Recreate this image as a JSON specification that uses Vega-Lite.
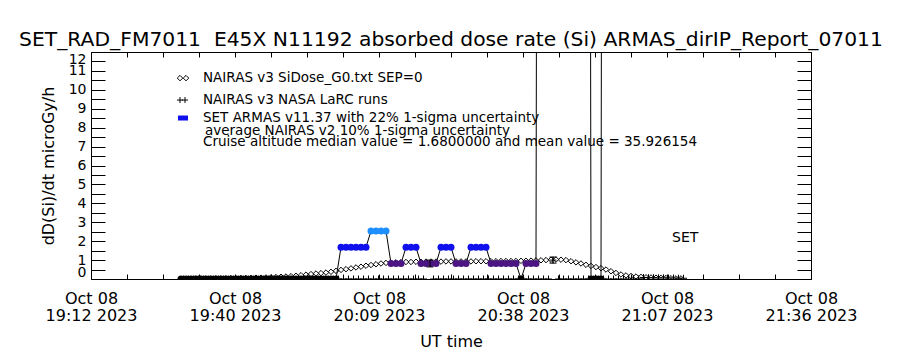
{
  "$schema": "https://vega.github.io/schema/vega-lite/v6.json",
  "width": 720,
  "height": 227,
  "autosize": {"type": "none"},
  "padding": {"left": 91, "top": 52, "right": 89, "bottom": 71},
  "background": "white",
  "title": {"text": "SET_RAD_FM7011 \u00a0E45X N11192 absorbed dose rate (Si) ARMAS_dirIP_Report_07011", "fontSize": 20.3, "font": "DejaVu Sans", "fontWeight": "normal", "color": "black", "anchor": "middle", "offset": 1},
  "config": {
    "view": {"stroke": "black", "strokeWidth": 1},
    "font": "DejaVu Sans",
    "axis": {"domain": false, "grid": false, "tickColor": "black", "labelColor": "black", "titleColor": "black", "labelFont": "DejaVu Sans", "titleFont": "DejaVu Sans", "titleFontWeight": "normal", "labelOverlap": false}
  },
  "datasets": {
    "armas": [
      {"time":"2023-10-08T19:30:00Z","dose":0},{"time":"2023-10-08T19:31:00Z","dose":0},{"time":"2023-10-08T19:32:00Z","dose":0},{"time":"2023-10-08T19:33:00Z","dose":0},{"time":"2023-10-08T19:34:00Z","dose":0},{"time":"2023-10-08T19:35:00Z","dose":0},{"time":"2023-10-08T19:36:00Z","dose":0},{"time":"2023-10-08T19:37:00Z","dose":0},{"time":"2023-10-08T19:38:00Z","dose":0},{"time":"2023-10-08T19:39:00Z","dose":0},
      {"time":"2023-10-08T19:40:00Z","dose":0},{"time":"2023-10-08T19:41:00Z","dose":0},{"time":"2023-10-08T19:42:00Z","dose":0},{"time":"2023-10-08T19:43:00Z","dose":0},{"time":"2023-10-08T19:44:00Z","dose":0},{"time":"2023-10-08T19:45:00Z","dose":0},{"time":"2023-10-08T19:46:00Z","dose":0},{"time":"2023-10-08T19:47:00Z","dose":0},{"time":"2023-10-08T19:48:00Z","dose":0},{"time":"2023-10-08T19:49:00Z","dose":0},
      {"time":"2023-10-08T19:50:00Z","dose":0},{"time":"2023-10-08T19:51:00Z","dose":0},{"time":"2023-10-08T19:52:00Z","dose":0},{"time":"2023-10-08T19:53:00Z","dose":0},{"time":"2023-10-08T19:54:00Z","dose":0},{"time":"2023-10-08T19:55:00Z","dose":0},{"time":"2023-10-08T19:56:00Z","dose":0},{"time":"2023-10-08T19:57:00Z","dose":0},{"time":"2023-10-08T19:58:00Z","dose":0},{"time":"2023-10-08T19:59:00Z","dose":0},
      {"time":"2023-10-08T20:00:00Z","dose":0},{"time":"2023-10-08T20:01:00Z","dose":0},
      {"time":"2023-10-08T20:02:00Z","dose":1.68},{"time":"2023-10-08T20:03:00Z","dose":1.68},{"time":"2023-10-08T20:04:00Z","dose":1.68},{"time":"2023-10-08T20:05:00Z","dose":1.68},{"time":"2023-10-08T20:06:00Z","dose":1.68},{"time":"2023-10-08T20:07:00Z","dose":1.68},
      {"time":"2023-10-08T20:08:00Z","dose":2.54},{"time":"2023-10-08T20:09:00Z","dose":2.54},{"time":"2023-10-08T20:10:00Z","dose":2.54},{"time":"2023-10-08T20:11:00Z","dose":2.54},
      {"time":"2023-10-08T20:12:00Z","dose":0.82},{"time":"2023-10-08T20:13:00Z","dose":0.82},{"time":"2023-10-08T20:14:00Z","dose":0.82},
      {"time":"2023-10-08T20:15:00Z","dose":1.68},{"time":"2023-10-08T20:16:00Z","dose":1.68},{"time":"2023-10-08T20:17:00Z","dose":1.68},
      {"time":"2023-10-08T20:18:00Z","dose":0.82},{"time":"2023-10-08T20:19:00Z","dose":0.82},{"time":"2023-10-08T20:20:00Z","dose":0.82},{"time":"2023-10-08T20:21:00Z","dose":0.82},
      {"time":"2023-10-08T20:22:00Z","dose":1.68},{"time":"2023-10-08T20:23:00Z","dose":1.68},{"time":"2023-10-08T20:24:00Z","dose":1.68},
      {"time":"2023-10-08T20:25:00Z","dose":0.82},{"time":"2023-10-08T20:26:00Z","dose":0.82},{"time":"2023-10-08T20:27:00Z","dose":0.82},
      {"time":"2023-10-08T20:28:00Z","dose":1.68},{"time":"2023-10-08T20:29:00Z","dose":1.68},{"time":"2023-10-08T20:30:00Z","dose":1.68},{"time":"2023-10-08T20:31:00Z","dose":1.68},
      {"time":"2023-10-08T20:32:00Z","dose":0.82},{"time":"2023-10-08T20:33:00Z","dose":0.82},{"time":"2023-10-08T20:34:00Z","dose":0.82},{"time":"2023-10-08T20:35:00Z","dose":0.82},{"time":"2023-10-08T20:36:00Z","dose":0.82},{"time":"2023-10-08T20:37:00Z","dose":0.82},
      {"time":"2023-10-08T20:38:00Z","dose":0},
      {"time":"2023-10-08T20:39:00Z","dose":0.82},{"time":"2023-10-08T20:40:00Z","dose":0.82},{"time":"2023-10-08T20:41:00Z","dose":0.82},
      {"time":"2023-10-08T20:42:00Z","dose":142},{"time":"2023-10-08T20:43:00Z","dose":168},{"time":"2023-10-08T20:44:00Z","dose":175},{"time":"2023-10-08T20:45:00Z","dose":190},{"time":"2023-10-08T20:46:00Z","dose":185},{"time":"2023-10-08T20:47:00Z","dose":170},{"time":"2023-10-08T20:48:00Z","dose":160},{"time":"2023-10-08T20:49:00Z","dose":178},{"time":"2023-10-08T20:50:00Z","dose":182},{"time":"2023-10-08T20:51:00Z","dose":150},
      {"time":"2023-10-08T20:52:00Z","dose":0},{"time":"2023-10-08T20:53:00Z","dose":0},{"time":"2023-10-08T20:54:00Z","dose":0},
      {"time":"2023-10-08T20:55:00Z","dose":165},{"time":"2023-10-08T20:56:00Z","dose":172},{"time":"2023-10-08T20:57:00Z","dose":180},{"time":"2023-10-08T20:58:00Z","dose":188},{"time":"2023-10-08T20:59:00Z","dose":176},{"time":"2023-10-08T21:00:00Z","dose":169},{"time":"2023-10-08T21:01:00Z","dose":158},{"time":"2023-10-08T21:02:00Z","dose":150}
    ],
    "nairas": [
      {"time":"2023-10-08T19:30:00Z","dose":0.01},{"time":"2023-10-08T19:31:00Z","dose":0.01},{"time":"2023-10-08T19:32:00Z","dose":0.01},{"time":"2023-10-08T19:33:00Z","dose":0.02},{"time":"2023-10-08T19:34:00Z","dose":0.02},{"time":"2023-10-08T19:35:00Z","dose":0.02},{"time":"2023-10-08T19:36:00Z","dose":0.02},{"time":"2023-10-08T19:37:00Z","dose":0.03},{"time":"2023-10-08T19:38:00Z","dose":0.03},{"time":"2023-10-08T19:39:00Z","dose":0.03},
      {"time":"2023-10-08T19:40:00Z","dose":0.04},{"time":"2023-10-08T19:41:00Z","dose":0.04},{"time":"2023-10-08T19:42:00Z","dose":0.05},{"time":"2023-10-08T19:43:00Z","dose":0.05},{"time":"2023-10-08T19:44:00Z","dose":0.06},{"time":"2023-10-08T19:45:00Z","dose":0.07},{"time":"2023-10-08T19:46:00Z","dose":0.07},{"time":"2023-10-08T19:47:00Z","dose":0.08},{"time":"2023-10-08T19:48:00Z","dose":0.09},{"time":"2023-10-08T19:49:00Z","dose":0.10},
      {"time":"2023-10-08T19:50:00Z","dose":0.12},{"time":"2023-10-08T19:51:00Z","dose":0.13},{"time":"2023-10-08T19:52:00Z","dose":0.15},{"time":"2023-10-08T19:53:00Z","dose":0.17},{"time":"2023-10-08T19:54:00Z","dose":0.20},{"time":"2023-10-08T19:55:00Z","dose":0.23},{"time":"2023-10-08T19:56:00Z","dose":0.26},{"time":"2023-10-08T19:57:00Z","dose":0.29},{"time":"2023-10-08T19:58:00Z","dose":0.31},{"time":"2023-10-08T19:59:00Z","dose":0.34},
      {"time":"2023-10-08T20:00:00Z","dose":0.38},{"time":"2023-10-08T20:01:00Z","dose":0.43},{"time":"2023-10-08T20:02:00Z","dose":0.48},{"time":"2023-10-08T20:03:00Z","dose":0.52},{"time":"2023-10-08T20:04:00Z","dose":0.56},{"time":"2023-10-08T20:05:00Z","dose":0.61},{"time":"2023-10-08T20:06:00Z","dose":0.65},{"time":"2023-10-08T20:07:00Z","dose":0.70},{"time":"2023-10-08T20:08:00Z","dose":0.74},{"time":"2023-10-08T20:09:00Z","dose":0.78},
      {"time":"2023-10-08T20:10:00Z","dose":0.82},{"time":"2023-10-08T20:11:00Z","dose":0.85},{"time":"2023-10-08T20:12:00Z","dose":0.87},{"time":"2023-10-08T20:13:00Z","dose":0.88},{"time":"2023-10-08T20:14:00Z","dose":0.89},{"time":"2023-10-08T20:15:00Z","dose":0.90},{"time":"2023-10-08T20:16:00Z","dose":0.90},{"time":"2023-10-08T20:17:00Z","dose":0.91},{"time":"2023-10-08T20:18:00Z","dose":0.91},{"time":"2023-10-08T20:19:00Z","dose":0.92},
      {"time":"2023-10-08T20:20:00Z","dose":0.92},{"time":"2023-10-08T20:21:00Z","dose":0.92},{"time":"2023-10-08T20:22:00Z","dose":0.92},{"time":"2023-10-08T20:23:00Z","dose":0.93},{"time":"2023-10-08T20:24:00Z","dose":0.93},{"time":"2023-10-08T20:25:00Z","dose":0.93},{"time":"2023-10-08T20:26:00Z","dose":0.93},{"time":"2023-10-08T20:27:00Z","dose":0.93},{"time":"2023-10-08T20:28:00Z","dose":0.93},{"time":"2023-10-08T20:29:00Z","dose":0.94},
      {"time":"2023-10-08T20:30:00Z","dose":0.94},{"time":"2023-10-08T20:31:00Z","dose":0.94},{"time":"2023-10-08T20:32:00Z","dose":0.94},{"time":"2023-10-08T20:33:00Z","dose":0.94},{"time":"2023-10-08T20:34:00Z","dose":0.95},{"time":"2023-10-08T20:35:00Z","dose":0.95},{"time":"2023-10-08T20:36:00Z","dose":0.95},{"time":"2023-10-08T20:37:00Z","dose":0.95},{"time":"2023-10-08T20:38:00Z","dose":0.96},{"time":"2023-10-08T20:39:00Z","dose":0.96},
      {"time":"2023-10-08T20:40:00Z","dose":0.97},{"time":"2023-10-08T20:41:00Z","dose":0.98},{"time":"2023-10-08T20:42:00Z","dose":0.99},{"time":"2023-10-08T20:43:00Z","dose":1.00},{"time":"2023-10-08T20:44:00Z","dose":1.02},{"time":"2023-10-08T20:45:00Z","dose":1.03},{"time":"2023-10-08T20:46:00Z","dose":1.02},{"time":"2023-10-08T20:47:00Z","dose":1.00},{"time":"2023-10-08T20:48:00Z","dose":0.94},{"time":"2023-10-08T20:49:00Z","dose":0.88},
      {"time":"2023-10-08T20:50:00Z","dose":0.82},{"time":"2023-10-08T20:51:00Z","dose":0.75},{"time":"2023-10-08T20:52:00Z","dose":0.69},{"time":"2023-10-08T20:53:00Z","dose":0.63},{"time":"2023-10-08T20:54:00Z","dose":0.57},{"time":"2023-10-08T20:55:00Z","dose":0.50},{"time":"2023-10-08T20:56:00Z","dose":0.41},{"time":"2023-10-08T20:57:00Z","dose":0.32},{"time":"2023-10-08T20:58:00Z","dose":0.24},{"time":"2023-10-08T20:59:00Z","dose":0.19},
      {"time":"2023-10-08T21:00:00Z","dose":0.16},{"time":"2023-10-08T21:01:00Z","dose":0.13},{"time":"2023-10-08T21:02:00Z","dose":0.11},{"time":"2023-10-08T21:03:00Z","dose":0.09},{"time":"2023-10-08T21:04:00Z","dose":0.08},{"time":"2023-10-08T21:05:00Z","dose":0.07},{"time":"2023-10-08T21:06:00Z","dose":0.06},{"time":"2023-10-08T21:07:00Z","dose":0.05},{"time":"2023-10-08T21:08:00Z","dose":0.04},{"time":"2023-10-08T21:09:00Z","dose":0.03},
      {"time":"2023-10-08T21:10:00Z","dose":0.03}
    ],
    "larc": [
      {"time":"2023-10-08T19:30:30Z","dose":0},{"time":"2023-10-08T19:31:30Z","dose":0},{"time":"2023-10-08T19:32:30Z","dose":0},{"time":"2023-10-08T19:33:30Z","dose":0},{"time":"2023-10-08T19:34:30Z","dose":0},{"time":"2023-10-08T19:35:30Z","dose":0},{"time":"2023-10-08T19:36:30Z","dose":0},{"time":"2023-10-08T19:37:30Z","dose":0},{"time":"2023-10-08T19:38:30Z","dose":0},{"time":"2023-10-08T19:39:30Z","dose":0},
      {"time":"2023-10-08T19:40:30Z","dose":0},{"time":"2023-10-08T19:41:30Z","dose":0},{"time":"2023-10-08T19:42:30Z","dose":0},{"time":"2023-10-08T19:43:30Z","dose":0},{"time":"2023-10-08T19:44:30Z","dose":0},{"time":"2023-10-08T19:45:30Z","dose":0},{"time":"2023-10-08T19:46:30Z","dose":0},{"time":"2023-10-08T19:47:30Z","dose":0},{"time":"2023-10-08T19:48:30Z","dose":0},{"time":"2023-10-08T19:49:30Z","dose":0},
      {"time":"2023-10-08T19:50:30Z","dose":0},{"time":"2023-10-08T19:51:30Z","dose":0},{"time":"2023-10-08T19:52:30Z","dose":0},{"time":"2023-10-08T19:53:30Z","dose":0},{"time":"2023-10-08T19:54:30Z","dose":0},{"time":"2023-10-08T19:55:30Z","dose":0},{"time":"2023-10-08T19:56:30Z","dose":0},{"time":"2023-10-08T19:57:30Z","dose":0},{"time":"2023-10-08T19:58:30Z","dose":0},{"time":"2023-10-08T19:59:30Z","dose":0},
      {"time":"2023-10-08T20:00:30Z","dose":0},{"time":"2023-10-08T20:01:30Z","dose":0},{"time":"2023-10-08T20:02:30Z","dose":0},{"time":"2023-10-08T20:03:30Z","dose":0},{"time":"2023-10-08T20:04:30Z","dose":0},{"time":"2023-10-08T20:05:30Z","dose":0},{"time":"2023-10-08T20:06:30Z","dose":0},{"time":"2023-10-08T20:07:30Z","dose":0},{"time":"2023-10-08T20:08:30Z","dose":0},{"time":"2023-10-08T20:09:30Z","dose":0},
      {"time":"2023-10-08T20:10:30Z","dose":0},{"time":"2023-10-08T20:11:30Z","dose":0},{"time":"2023-10-08T20:12:30Z","dose":0},{"time":"2023-10-08T20:13:30Z","dose":0},{"time":"2023-10-08T20:14:30Z","dose":0},{"time":"2023-10-08T20:15:30Z","dose":0},{"time":"2023-10-08T20:16:30Z","dose":0},{"time":"2023-10-08T20:17:30Z","dose":0},{"time":"2023-10-08T20:18:30Z","dose":0},{"time":"2023-10-08T20:19:48Z","dose":0.82,"low":0.64,"high":1.0},
      {"time":"2023-10-08T20:20:30Z","dose":0},{"time":"2023-10-08T20:21:30Z","dose":0},{"time":"2023-10-08T20:22:30Z","dose":0},{"time":"2023-10-08T20:23:30Z","dose":0},{"time":"2023-10-08T20:24:30Z","dose":0},{"time":"2023-10-08T20:25:30Z","dose":0},{"time":"2023-10-08T20:26:30Z","dose":0},{"time":"2023-10-08T20:27:30Z","dose":0},{"time":"2023-10-08T20:28:30Z","dose":0},{"time":"2023-10-08T20:29:30Z","dose":0},
      {"time":"2023-10-08T20:30:30Z","dose":0},{"time":"2023-10-08T20:31:30Z","dose":0},{"time":"2023-10-08T20:32:30Z","dose":0},{"time":"2023-10-08T20:33:30Z","dose":0},{"time":"2023-10-08T20:34:30Z","dose":0},{"time":"2023-10-08T20:35:30Z","dose":0},{"time":"2023-10-08T20:36:30Z","dose":0},{"time":"2023-10-08T20:37:30Z","dose":0},{"time":"2023-10-08T20:38:30Z","dose":0},{"time":"2023-10-08T20:39:30Z","dose":0},
      {"time":"2023-10-08T20:40:30Z","dose":0},{"time":"2023-10-08T20:41:30Z","dose":0},{"time":"2023-10-08T20:42:30Z","dose":0},{"time":"2023-10-08T20:43:30Z","dose":0},{"time":"2023-10-08T20:44:24Z","dose":1.0,"low":0.84,"high":1.16},{"time":"2023-10-08T20:45:30Z","dose":0},{"time":"2023-10-08T20:46:30Z","dose":0},{"time":"2023-10-08T20:47:30Z","dose":0},{"time":"2023-10-08T20:48:30Z","dose":0},{"time":"2023-10-08T20:49:30Z","dose":0},
      {"time":"2023-10-08T20:50:30Z","dose":0},{"time":"2023-10-08T20:51:30Z","dose":0},{"time":"2023-10-08T20:52:30Z","dose":0},{"time":"2023-10-08T20:53:30Z","dose":0},{"time":"2023-10-08T20:54:30Z","dose":0},{"time":"2023-10-08T20:55:30Z","dose":0},{"time":"2023-10-08T20:56:30Z","dose":0},{"time":"2023-10-08T20:57:30Z","dose":0},{"time":"2023-10-08T20:58:30Z","dose":0},{"time":"2023-10-08T20:59:30Z","dose":0},
      {"time":"2023-10-08T21:00:30Z","dose":0},{"time":"2023-10-08T21:01:30Z","dose":0},{"time":"2023-10-08T21:02:30Z","dose":0.08},{"time":"2023-10-08T21:03:30Z","dose":0.07},{"time":"2023-10-08T21:04:30Z","dose":0.07},{"time":"2023-10-08T21:05:30Z","dose":0.06},{"time":"2023-10-08T21:06:30Z","dose":0.06},{"time":"2023-10-08T21:07:30Z","dose":0.05},{"time":"2023-10-08T21:08:30Z","dose":0.05},{"time":"2023-10-08T21:09:30Z","dose":0.04},
      {"time":"2023-10-08T21:10:30Z","dose":0.04}
    ]
  },
  "resolve": {"axis": {"x": "independent", "y": "independent"}},
  "layer": [
    {
      "data": {"name": "armas"},
      "mark": {"type": "line", "color": "black", "strokeWidth": 1, "clip": true},
      "encoding": {
        "x": {"field": "time", "type": "temporal",
          "scale": {"type": "utc", "nice": false, "domain": [{"year":2023,"month":10,"date":8,"hours":19,"minutes":12,"utc":true},{"year":2023,"month":10,"date":8,"hours":21,"minutes":36,"utc":true}]},
          "axis": {"orient": "bottom", "values": [1696792320000,1696792752000,1696793184000,1696793616000,1696794048000,1696794480000,1696794912000,1696795344000,1696795776000,1696796208000,1696796640000,1696797072000,1696797504000,1696797936000,1696798368000,1696798800000,1696799232000,1696799664000,1696800096000,1696800528000,1696800960000],
            "tickSize": -5, "labelExpr": "(datum.value - 1696792320000) % 1728000 == 0 ? [utcFormat(datum.value, '%b %d'), utcFormat(datum.value, '%H:%M %Y')] : ''",
            "labelFontSize": 16, "labelLineHeight": 17, "labelPadding": 16, "labelFlush": false,
            "title": "UT time", "titleFontSize": 16, "titlePadding": 10}},
        "y": {"field": "dose", "type": "quantitative",
          "scale": {"domain": [0, 12], "nice": false, "zero": false},
          "axis": {"orient": "left", "values": [0,0.5,1,1.5,2,2.5,3,3.5,4,4.5,5,5.5,6,6.5,7,7.5,8,8.5,9,9.5,10,10.5,11,11.5,12],
            "tickSize": -14, "labelExpr": "datum.value % 1 == 0 ? format(datum.value, 'd') : ''",
            "labelFontSize": 14, "labelPadding": 19, "labelFlush": true,
            "title": "dD(Si)/dt microGy/h", "titleFontSize": 16, "titlePadding": 12}}
      }
    },
    {
      "data": {"name": "nairas"},
      "mark": {"type": "point", "shape": "diamond", "filled": false, "color": "black", "size": 30, "strokeWidth": 1, "opacity": 1, "clip": true},
      "encoding": {
        "x": {"field": "time", "type": "temporal",
          "scale": {"type": "utc", "nice": false, "domain": [{"year":2023,"month":10,"date":8,"hours":19,"minutes":12,"utc":true},{"year":2023,"month":10,"date":8,"hours":21,"minutes":36,"utc":true}]},
          "axis": {"orient": "top", "values": [1696792320000,1696792752000,1696793184000,1696793616000,1696794048000,1696794480000,1696794912000,1696795344000,1696795776000,1696796208000,1696796640000,1696797072000,1696797504000,1696797936000,1696798368000,1696798800000,1696799232000,1696799664000,1696800096000,1696800528000,1696800960000],
            "tickSize": -5, "labels": false, "title": null}},
        "y": {"field": "dose", "type": "quantitative",
          "scale": {"domain": [0, 12], "nice": false, "zero": false},
          "axis": {"orient": "right", "values": [0,0.5,1,1.5,2,2.5,3,3.5,4,4.5,5,5.5,6,6.5,7,7.5,8,8.5,9,9.5,10,10.5,11,11.5,12],
            "tickSize": -14, "labels": false, "title": null}}
      }
    },
    {
      "data": {"name": "larc"},
      "mark": {"type": "point", "shape": "M-1,0H1M0,-1V1", "filled": false, "color": "black", "size": 49, "strokeWidth": 1, "opacity": 1, "clip": true},
      "encoding": {
        "x": {"field": "time", "type": "temporal", "scale": {"type": "utc", "nice": false, "domain": [{"year":2023,"month":10,"date":8,"hours":19,"minutes":12,"utc":true},{"year":2023,"month":10,"date":8,"hours":21,"minutes":36,"utc":true}]}, "axis": null},
        "y": {"field": "dose", "type": "quantitative", "scale": {"domain": [0, 12], "nice": false, "zero": false}, "axis": null}
      }
    },
    {
      "data": {"name": "armas"},
      "mark": {"type": "point", "shape": "circle", "filled": true, "size": 49, "opacity": 1, "clip": true},
      "encoding": {
        "x": {"field": "time", "type": "temporal", "scale": {"type": "utc", "nice": false, "domain": [{"year":2023,"month":10,"date":8,"hours":19,"minutes":12,"utc":true},{"year":2023,"month":10,"date":8,"hours":21,"minutes":36,"utc":true}]}, "axis": null},
        "y": {"field": "dose", "type": "quantitative", "scale": {"domain": [0, 12], "nice": false, "zero": false}, "axis": null},
        "color": {"field": "dose", "type": "quantitative", "scale": {"type": "threshold", "domain": [0.4, 1.2, 2.0], "range": ["#000000", "#4b1582", "#1010ee", "#1e8fff"]}, "legend": null}
      }
    },
    {
      "data": {"name": "larc"},
      "transform": [{"filter": "isValid(datum.low)"}],
      "mark": {"type": "rule", "color": "black", "strokeWidth": 1, "clip": true},
      "encoding": {
        "x": {"field": "time", "type": "temporal", "scale": {"type": "utc", "nice": false, "domain": [{"year":2023,"month":10,"date":8,"hours":19,"minutes":12,"utc":true},{"year":2023,"month":10,"date":8,"hours":21,"minutes":36,"utc":true}]}, "axis": null},
        "y": {"field": "low", "type": "quantitative", "scale": {"domain": [0, 12], "nice": false, "zero": false}, "axis": null},
        "y2": {"field": "high"}
      }
    },
    {
      "data": {"name": "larc"},
      "transform": [{"filter": "isValid(datum.low)"}],
      "mark": {"type": "point", "shape": "M-1,0H1", "filled": false, "color": "black", "size": 49, "strokeWidth": 1, "opacity": 1, "clip": true},
      "encoding": {
        "x": {"field": "time", "type": "temporal", "scale": {"type": "utc", "nice": false, "domain": [{"year":2023,"month":10,"date":8,"hours":19,"minutes":12,"utc":true},{"year":2023,"month":10,"date":8,"hours":21,"minutes":36,"utc":true}]}, "axis": null},
        "y": {"field": "low", "type": "quantitative", "scale": {"domain": [0, 12], "nice": false, "zero": false}, "axis": null}
      }
    },
    {
      "data": {"name": "larc"},
      "transform": [{"filter": "isValid(datum.high)"}],
      "mark": {"type": "point", "shape": "M-1,0H1", "filled": false, "color": "black", "size": 49, "strokeWidth": 1, "opacity": 1, "clip": true},
      "encoding": {
        "x": {"field": "time", "type": "temporal", "scale": {"type": "utc", "nice": false, "domain": [{"year":2023,"month":10,"date":8,"hours":19,"minutes":12,"utc":true},{"year":2023,"month":10,"date":8,"hours":21,"minutes":36,"utc":true}]}, "axis": null},
        "y": {"field": "high", "type": "quantitative", "scale": {"domain": [0, 12], "nice": false, "zero": false}, "axis": null}
      }
    },
    {
      "data": {"values": [{}]},
      "mark": {"type": "point", "shape": "diamond", "filled": false, "color": "black", "size": 30, "strokeWidth": 1, "opacity": 1},
      "encoding": {
        "x": {"datum": {"year":2023,"month":10,"date":8,"hours":19,"minutes":29,"seconds":48,"utc":true}, "type": "temporal", "axis": null},
        "y": {"datum": 10.62, "type": "quantitative", "axis": null}
      }
    },
    {
      "data": {"values": [{}]},
      "mark": {"type": "point", "shape": "diamond", "filled": false, "color": "black", "size": 30, "strokeWidth": 1, "opacity": 1},
      "encoding": {
        "x": {"datum": {"year":2023,"month":10,"date":8,"hours":19,"minutes":31,"seconds":0,"utc":true}, "type": "temporal", "axis": null},
        "y": {"datum": 10.62, "type": "quantitative", "axis": null}
      }
    },
    {
      "data": {"values": [{}]},
      "mark": {"type": "point", "shape": "M-1,0H1M0,-1V1", "filled": false, "color": "black", "size": 36, "strokeWidth": 1, "opacity": 1},
      "encoding": {
        "x": {"datum": {"year":2023,"month":10,"date":8,"hours":19,"minutes":29,"seconds":48,"utc":true}, "type": "temporal", "axis": null},
        "y": {"datum": 9.46, "type": "quantitative", "axis": null}
      }
    },
    {
      "data": {"values": [{}]},
      "mark": {"type": "point", "shape": "M-1,0H1M0,-1V1", "filled": false, "color": "black", "size": 36, "strokeWidth": 1, "opacity": 1},
      "encoding": {
        "x": {"datum": {"year":2023,"month":10,"date":8,"hours":19,"minutes":30,"seconds":48,"utc":true}, "type": "temporal", "axis": null},
        "y": {"datum": 9.46, "type": "quantitative", "axis": null}
      }
    },
    {
      "data": {"values": [{}]},
      "mark": {"type": "point", "shape": "M-1,-0.5H1V0.5H-1Z", "filled": true, "color": "#1010ee", "size": 100, "opacity": 1},
      "encoding": {
        "x": {"datum": {"year":2023,"month":10,"date":8,"hours":19,"minutes":30,"seconds":24,"utc":true}, "type": "temporal", "axis": null},
        "y": {"datum": 8.51, "type": "quantitative", "axis": null}
      }
    },
    {
      "data": {"values": [{}]},
      "mark": {"type": "text", "text": "NAIRAS v3 SiDose_G0.txt SEP=0", "align": "left", "baseline": "middle", "fontSize": 13.5, "font": "DejaVu Sans", "color": "black"},
      "encoding": {
        "x": {"datum": {"year":2023,"month":10,"date":8,"hours":19,"minutes":34,"seconds":24,"utc":true}, "type": "temporal", "axis": null},
        "y": {"datum": 10.62, "type": "quantitative", "axis": null}
      }
    },
    {
      "data": {"values": [{}]},
      "mark": {"type": "text", "text": "NAIRAS v3 NASA LaRC runs", "align": "left", "baseline": "middle", "fontSize": 13.5, "font": "DejaVu Sans", "color": "black"},
      "encoding": {
        "x": {"datum": {"year":2023,"month":10,"date":8,"hours":19,"minutes":34,"seconds":24,"utc":true}, "type": "temporal", "axis": null},
        "y": {"datum": 9.46, "type": "quantitative", "axis": null}
      }
    },
    {
      "data": {"values": [{}]},
      "mark": {"type": "text", "text": "SET ARMAS v11.37 with 22% 1-sigma uncertainty", "align": "left", "baseline": "middle", "fontSize": 13.5, "font": "DejaVu Sans", "color": "black"},
      "encoding": {
        "x": {"datum": {"year":2023,"month":10,"date":8,"hours":19,"minutes":34,"seconds":24,"utc":true}, "type": "temporal", "axis": null},
        "y": {"datum": 8.51, "type": "quantitative", "axis": null}
      }
    },
    {
      "data": {"values": [{}]},
      "mark": {"type": "text", "text": "average NAIRAS v2 10% 1-sigma uncertainty", "align": "left", "baseline": "middle", "fontSize": 13.5, "font": "DejaVu Sans", "color": "black"},
      "encoding": {
        "x": {"datum": {"year":2023,"month":10,"date":8,"hours":19,"minutes":34,"seconds":48,"utc":true}, "type": "temporal", "axis": null},
        "y": {"datum": 7.82, "type": "quantitative", "axis": null}
      }
    },
    {
      "data": {"values": [{}]},
      "mark": {"type": "text", "text": "Cruise altitude median value = 1.6800000 and mean value = 35.926154", "align": "left", "baseline": "middle", "fontSize": 13.5, "font": "DejaVu Sans", "color": "black"},
      "encoding": {
        "x": {"datum": {"year":2023,"month":10,"date":8,"hours":19,"minutes":34,"seconds":24,"utc":true}, "type": "temporal", "axis": null},
        "y": {"datum": 7.24, "type": "quantitative", "axis": null}
      }
    },
    {
      "data": {"values": [{}]},
      "mark": {"type": "text", "text": "SET", "align": "left", "baseline": "middle", "fontSize": 14, "font": "DejaVu Sans", "color": "black"},
      "encoding": {
        "x": {"datum": {"year":2023,"month":10,"date":8,"hours":21,"minutes":8,"seconds":12,"utc":true}, "type": "temporal", "axis": null},
        "y": {"datum": 2.17, "type": "quantitative", "axis": null}
      }
    }
  ]
}
